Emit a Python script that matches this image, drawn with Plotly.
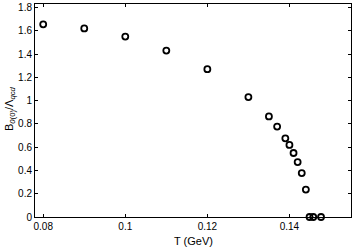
import plotly.graph_objects as go

T = [0.08, 0.09, 0.10, 0.11, 0.12, 0.13, 0.135, 0.137, 0.139, 0.140, 0.141, 0.142, 0.143, 0.144, 0.1449, 0.1458, 0.1477]
B = [1.655, 1.62, 1.55, 1.43, 1.27, 1.03, 0.864, 0.777, 0.676, 0.619, 0.55, 0.472, 0.377, 0.236, 0.0, 0.0, 0.0]

x_ticks = [0.08, 0.10, 0.12, 0.14]
x_ticklabels = ["0.08", "0.1", "0.12", "0.14"]
y_ticks = [0, 0.2, 0.4, 0.6, 0.8, 1.0, 1.2, 1.4, 1.6, 1.8]
y_ticklabels = ["0", "0.2", "0.4", "0.6", "0.8", "1", "1.2", "1.4", "1.6", "1.8"]

W, H = 354, 251
ML, MR, MT, MB = 35, 3, 4, 34

fig = go.Figure()
fig.add_trace(go.Scatter(
    x=T, y=B, mode="markers",
    marker=dict(symbol="circle-open", size=6, color="black", line=dict(width=1.8, color="black")),
    cliponaxis=False,
))

font = dict(family="Liberation Sans, Arial", size=10, color="black")
axis_common = dict(
    showline=True, linecolor="black", linewidth=1, mirror="ticks",
    ticks="inside", ticklen=3, tickcolor="black", tickwidth=1,
    showgrid=False, zeroline=False, automargin=False,
    tickfont=font,
)

fig.update_xaxes(range=[0.078, 0.155], tickvals=x_ticks, ticktext=x_ticklabels, **axis_common)
fig.update_yaxes(range=[0, 1.83], tickvals=y_ticks, ticktext=y_ticklabels, **axis_common)

fig.add_annotation(
    text="T (GeV)", xref="paper", yref="paper",
    x=(193 - ML) / (W - ML - MR), y=-(241 - (H - MB)) / (H - MT - MB),
    showarrow=False, font=dict(family="Liberation Sans, Arial", size=11, color="black"),
    xanchor="center", yanchor="middle",
)
fig.add_annotation(
    text="B<sub><i>0</i>(0)</sub>/Λ<sub><i>qcd</i></sub>", xref="paper", yref="paper",
    x=-(ML - 10) / (W - ML - MR), y=(H - MB - 109) / (H - MT - MB),
    showarrow=False, textangle=-90,
    font=dict(family="Liberation Sans, Arial", size=11, color="black"),
    xanchor="center", yanchor="middle",
)

fig.update_layout(
    width=W, height=H,
    margin=dict(l=ML, r=MR, t=MT, b=MB),
    plot_bgcolor="white", paper_bgcolor="white",
    showlegend=False,
)

fig.write_html("out.html", config={"displayModeBar": False},
               post_script="document.body.style.margin='0';document.body.style.overflow='hidden';")
